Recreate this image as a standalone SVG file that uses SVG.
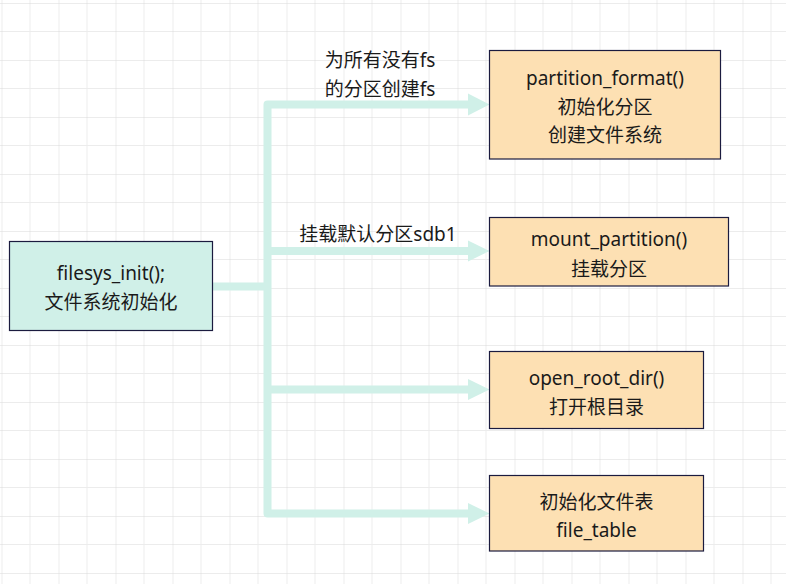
<svg xmlns="http://www.w3.org/2000/svg" width="786" height="584" viewBox="0 0 786 584">
<defs>
<pattern id="grid" x="1.5" y="3" width="57" height="57" patternUnits="userSpaceOnUse">
<path d="M28.5 0V57M0 28.5H57" stroke="#ececec" stroke-width="1" fill="none"/>
<path d="M0 0V57M0 0H57" stroke="#d9d9d9" stroke-width="1" fill="none"/>
</pattern>
<style>
.box{stroke:#1b1b3f;stroke-width:1.2}
.teal{fill:#d0f0e8}
.orange{fill:#fde0b3}
text{font-family:"Noto Sans","Noto Sans CJK SC",sans-serif;font-size:19px;fill:#1a1a1a;text-anchor:middle;dominant-baseline:central}
.conn{stroke:#d0f0e8;stroke-width:8;fill:none;stroke-linejoin:round}
.head{fill:#d0f0e8}
</style>
</defs>
<rect width="786" height="584" fill="#ffffff"/>
<rect width="786" height="584" fill="url(#grid)"/>
<g id="connectors">
<path class="conn" d="M212 286.5H267.5"/>
<path class="conn" d="M469 104.5H267.5V513.5H469"/>
<path class="conn" d="M267.5 251H469"/>
<path class="conn" d="M267.5 389.5H469"/>
<polygon class="head" points="468,93.5 489.5,104.5 468,115.5"/>
<polygon class="head" points="468,240.5 489.5,251 468,261.5"/>
<polygon class="head" points="468,379 489.5,389.5 468,400"/>
<polygon class="head" points="468,503 489.5,513.5 468,524"/>
<text x="380" y="60">为所有没有fs</text>
<text x="380" y="89">的分区创建fs</text>
<text x="378" y="234">挂载默认分区sdb1</text>
</g>
<g id="filesys_init">
<rect class="box teal" x="9.5" y="241.5" width="203" height="89"/>
<text x="111" y="273">filesys_init();</text>
<text x="111" y="302">文件系统初始化</text>
</g>
<g id="partition_format">
<rect class="box orange" x="489.5" y="50.5" width="231" height="108.5"/>
<text x="605" y="78">partition_format()</text>
<text x="605" y="107">初始化分区</text>
<text x="605" y="135">创建文件系统</text>
</g>
<g id="mount_partition">
<rect class="box orange" x="489.5" y="217.5" width="239" height="68.5"/>
<text x="609" y="239">mount_partition()</text>
<text x="609" y="269">挂载分区</text>
</g>
<g id="open_root_dir">
<rect class="box orange" x="489.5" y="351.5" width="214" height="77"/>
<text x="596.5" y="378">open_root_dir()</text>
<text x="596.5" y="407">打开根目录</text>
</g>
<g id="file_table">
<rect class="box orange" x="489.5" y="475.5" width="214" height="75.5"/>
<text x="596.5" y="502">初始化文件表</text>
<text x="596.5" y="530">file_table</text>
</g>
</svg>
